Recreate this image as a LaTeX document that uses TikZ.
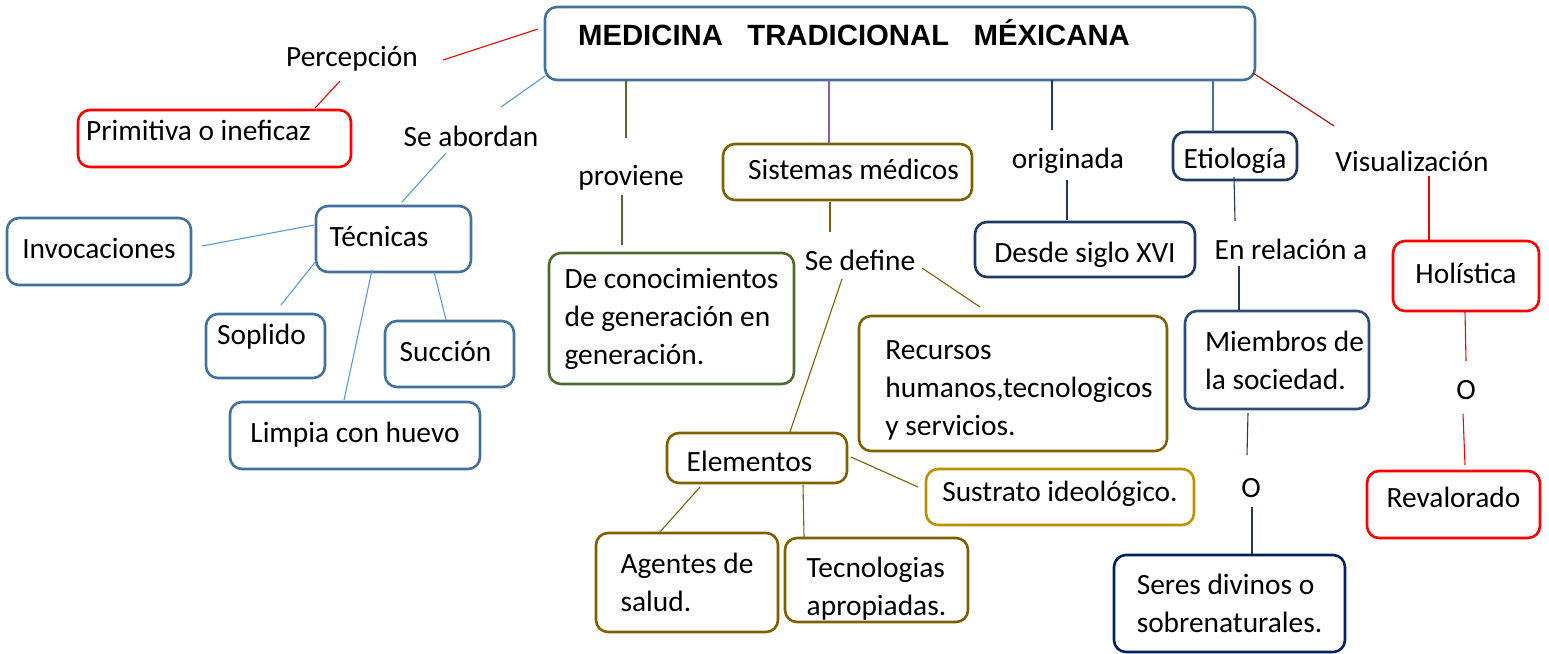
\documentclass[tikz,border=0pt]{standalone}
\usepackage{fontspec}
\setmainfont{Carlito}
\newfontfamily\titlefont{Liberation Sans}
\definecolor{cSteel}{HTML}{41719C}
\definecolor{cSteelL}{HTML}{5B9BD5}
\definecolor{cRed}{HTML}{FF0000}
\definecolor{cDRed}{HTML}{C00000}
\definecolor{cGreen}{HTML}{4F6B2C}
\definecolor{cPurp}{HTML}{8A5CC0}
\definecolor{cBrown}{HTML}{7F6000}
\definecolor{cGold}{HTML}{BF9000}
\definecolor{cNavy}{HTML}{203864}
\definecolor{cNavyD}{HTML}{002060}
\definecolor{cNavyM}{HTML}{2F4B7C}
\newcommand\fs{\fontsize{29.4}{38}\selectfont}
\newcommand\lnk[5]{\draw[#1] ([shift={(#3)}]#2.center) -- ([shift={(#5)}]#4.center);}
\tikzset{
  bx/.style={draw=#1, rounded corners=12pt, line width=2.6pt, fill=white, inner sep=0pt, font=\fs},
  one/.style={text height=20pt, text depth=6pt},
  multi/.style={align=left},
  lbl/.style={inner sep=0pt, font=\fs, text height=20pt, text depth=6pt},
  ln/.style={draw=#1, line width=1.1pt},
}
\begin{document}
\begin{tikzpicture}[x=1pt,y=-1pt]
\useasboundingbox (0,0) rectangle (1549,653);
% title
\node[bx=cSteel, minimum width=710pt, minimum height=73pt, text height=22pt, text depth=19pt,
      font=\titlefont\bfseries\fontsize{29.3}{34}\selectfont] (title) at (900,43.5)
  {MEDICINA\ \ \ TRADICIONAL\ \ \ MÉXICANA\hspace*{92pt}};
% labels
\node[lbl] (perc) at (352,59) {Percepción};
\node[lbl] (seab) at (471,139) {Se abordan};
\node[lbl] (prov) at (631,178) {proviene};
\node[lbl] (sedef) at (860,263) {Se define};
\node[lbl] (orig) at (1068,161) {originada};
\node[lbl] (enrel) at (1291,252) {En relación a};
\node[lbl] (visu) at (1412,164) {Visualización};
\node[lbl] (oa) at (1251,490) {O};
\node[lbl] (ob) at (1466,392) {O};
% boxes
\node[bx=cRed, one, text depth=17pt, minimum width=273pt, minimum height=57pt] (prim) at (214.5,138.5) {Primitiva o ineficaz\hspace*{32pt}};
\node[bx=cSteel, one, minimum width=155pt, minimum height=66pt] (tec) at (393.5,239) {Técnicas\hspace*{29pt}};
\node[bx=cSteel, one, minimum width=184pt, minimum height=67pt] (invo) at (99,251.5) {Invocaciones};
\node[bx=cSteel, one, text depth=24pt, minimum width=119pt, minimum height=64pt] (sopl) at (265.5,346) {Soplido\hspace*{8pt}};
\node[bx=cSteel, one, minimum width=129pt, minimum height=66pt] (succ) at (449.5,354) {Succión\hspace*{8pt}};
\node[bx=cSteel, one, minimum width=250pt, minimum height=67pt] (limp) at (355,435.5) {Limpia con huevo};
\node[bx=cGreen, multi, minimum width=245pt, minimum height=131pt] (deco) at (671.5,318.5) {De conocimientos\\de generación en\\generación.};
\node[bx=cBrown, one, minimum width=249pt, minimum height=56pt] (sist) at (847.5,172) {\hspace*{12pt}Sistemas médicos};
\node[bx=cBrown, multi, minimum width=308pt, minimum height=135pt] (recu) at (1013,383.5) {\hspace*{12pt}\rule{0pt}{33pt}Recursos\\\hspace*{12pt}humanos,tecnologicos\\\hspace*{12pt}y servicios.};
\node[bx=cNavy, one, text height=31pt, minimum width=220pt, minimum height=55pt] (desde) at (1085,249.5) {Desde siglo XVI};
\node[bx=cNavy, one, text height=30pt, minimum width=124pt, minimum height=48pt] (etio) at (1235,156) {Etiología};
\node[bx=cNavyM, multi, minimum width=184pt, minimum height=98pt] (miem) at (1277,360) {\hspace*{15pt}Miembros de\\\hspace*{15pt}la sociedad.};
\node[bx=cNavyD, multi, minimum width=231pt, minimum height=97pt] (seres) at (1229.5,603.5) {Seres divinos o\\sobrenaturales.};
\node[bx=cRed, one, minimum width=146pt, minimum height=70pt] (holi) at (1466,276) {Holística};
\node[bx=cRed, one, text depth=15pt, minimum width=173pt, minimum height=67pt] (reva) at (1453.5,504.5) {Revalorado};
\node[bx=cBrown, one, text height=32pt, minimum width=180pt, minimum height=50pt] (elem) at (757,458) {Elementos\hspace*{15pt}};
\node[bx=cGold, one, text depth=12pt, minimum width=268pt, minimum height=56pt] (sust) at (1060,497) {Sustrato ideológico.};
\node[bx=cBrown, multi, minimum width=182pt, minimum height=99pt] (agen) at (687,582.5) {Agentes de\\salud.};
\node[bx=cBrown, multi, minimum width=183pt, minimum height=84pt] (tecn) at (876.5,580) {\rule{0pt}{38pt}Tecnologias\\apropiadas.};
% connectors
\lnk{ln=cRed}{perc}{91,1}{title}{-362,-14.5}
\lnk{ln=cRed}{perc}{-12,22}{prim}{100.5,-30.5}
\lnk{ln=cSteelL}{title}{-355,32.5}{seab}{30,-32}
\lnk{ln=cSteelL}{seab}{-25,14}{tec}{8.5,-37}
\lnk{ln=cSteelL}{tec}{-79.5,-14}{invo}{103,-5.5}
\lnk{ln=cSteelL}{tec}{-77.5,22}{sopl}{15.5,-41}
\lnk{ln=cSteelL}{tec}{40.5,33}{succ}{-3.5,-34}
\lnk{ln=cSteelL}{tec}{-21.5,31}{limp}{-11,-35.5}
\lnk{ln=cGreen}{title}{-274,36.5}{prov}{-5,-40}
\lnk{ln=cGreen}{prov}{-9,17}{deco}{-49.5,-73.5}
\lnk{ln=cPurp}{title}{-71,36.5}{sist}{-18.5,-29}
\lnk{ln=cBrown}{sist}{-17.5,30}{sedef}{-30,-31}
\lnk{ln=cBrown}{sedef}{62,5}{recu}{-33,-76.5}
\lnk{ln=cBrown}{sedef}{-18,16}{elem}{33,-26}
\lnk{ln=cBrown}{elem}{94,-1}{sust}{-142,-10}
\lnk{ln=cBrown}{elem}{-57,29}{agen}{-28,-49.5}
\lnk{ln=cBrown}{elem}{46,27}{tecn}{-72.5,-43}
\lnk{ln=cNavy}{title}{152,36.5}{orig}{-16,-31}
\lnk{ln=cNavy}{orig}{-1,19}{desde}{-18,-29.5}
\lnk{ln=cSteel}{title}{313,36.5}{etio}{-22,-24}
\lnk{ln=cNavy}{etio}{-1,21}{enrel}{-56,-31}
\lnk{ln=cNavy}{enrel}{-52,14}{miem}{-38,-50}
\lnk{ln=cNavy}{miem}{-29,53}{oa}{-4,-35}
\lnk{ln=cNavy}{oa}{1,17}{seres}{22.5,-49.5}
\lnk{ln=cDRed}{title}{353,29.5}{visu}{-78,-38}
\lnk{ln=cRed}{visu}{17,12}{holi}{-37,-36}
\lnk{ln=cRed}{holi}{-1,36}{ob}{0,-31}
\lnk{ln=cRed}{ob}{-3,22}{reva}{11.5,-39.5}
\end{tikzpicture}
\end{document}
